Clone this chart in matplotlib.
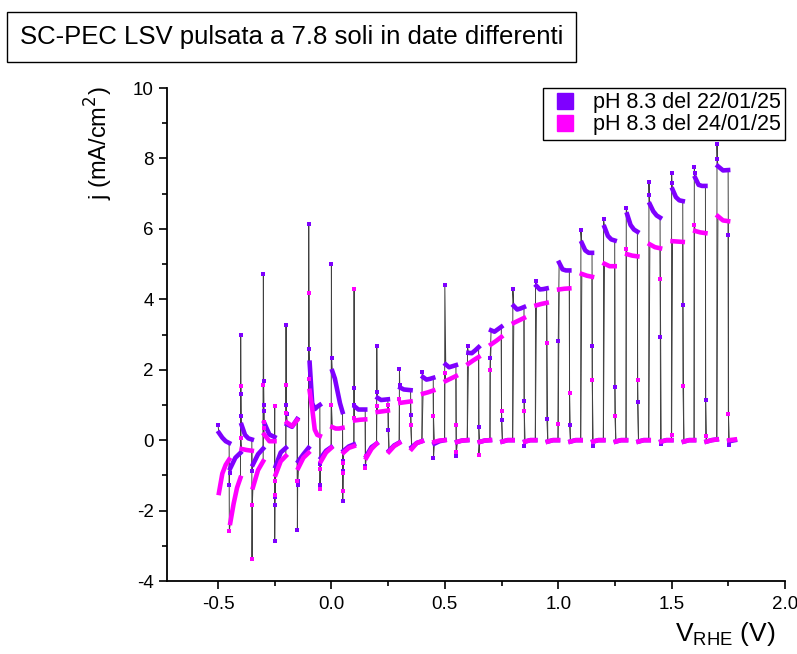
import matplotlib
matplotlib.use("Agg")
from matplotlib import pyplot as plt
from matplotlib.lines import Line2D
from matplotlib.ticker import MultipleLocator
import numpy as np

plt.rcParams['font.family'] = ['Liberation Sans', 'DejaVu Sans']
plt.rcParams['axes.unicode_minus'] = False

# potential at which each light/dark half-period starts (V vs RHE); even index = light on
edges = [-0.50, -0.45, -0.40, -0.35, -0.30, -0.25, -0.20, -0.15, -0.10, -0.05,
         0.00, 0.05, 0.10, 0.15, 0.20, 0.25, 0.30, 0.35, 0.40, 0.45,
         0.50, 0.55, 0.60, 0.65, 0.70, 0.75, 0.80, 0.85, 0.90, 0.95,
         1.00, 1.05, 1.10, 1.15, 1.20, 1.25, 1.30, 1.35, 1.40, 1.45,
         1.50, 1.55, 1.60, 1.65, 1.70, 1.75, 1.78]

series_names = ['pH 8.3 del 22/01/25', 'pH 8.3 del 24/01/25']
series_colors = ['#7f00ff', '#ff00ff']

# 22/01/25: sparse points at each switch, then the dense part of the half-period (mA/cm2)
p_jump = [[0.43], [-1.26, -0.93], [3.0, 1.32, 0.68], [-0.88], [4.73, 1.68, 1.0, 0.82],
          [-2.87, -1.85, -1.6], [3.27, 1.01, 0.75], [-2.54, -1.28, -1.17], [6.13, 2.6],
          [-1.26, -0.69], [5.01, 2.32], [-1.74, -0.88, -0.6], [1.49, 1.01], [-0.74],
          [2.68, 1.38], [0.3], [2.01, 1.58], [0.71], [1.94], [-0.52], [4.42], [-0.45],
          [2.67], [0.37], [2.32], [0.58], [4.28], [1.11, -0.17], [4.52], [0.59], [2.82],
          [0.43], [5.96], [2.68, -0.17], [6.27], [1.51], [6.58], [1.08], [7.33, 6.95],
          [2.93, -0.12], [7.58, 7.31], [3.84], [7.76, 7.59], [1.13], [8.4, 7.99],
          [5.84, -0.14]]
p_run = [[0.21, 0.07, -0.03, -0.08], [-0.8, -0.5, -0.36], [0.43, 0.15, 0.05, 0.02],
         [-0.69, -0.4, -0.24], [0.49, 0.16, 0.09], [-0.74, -0.35, -0.22],
         [0.45, 0.38, 0.6], [-0.6, -0.4, -0.22], [2.2, 1.05, 0.88, 0.95, 1.0],
         [-0.5, -0.3, -0.2], [1.96, 1.75, 1.4, 1.05, 0.8], [-0.3, -0.18, -0.12],
         [0.95, 0.87, 0.87, 0.87], [-0.45, -0.2, -0.1], [1.2, 1.14, 1.15, 1.16],
         [-0.3, -0.15, -0.07], [1.49, 1.44, 1.43, 1.42], [-0.2, -0.08, -0.03],
         [1.79, 1.72, 1.74, 1.77], [-0.1, -0.03, 0.0], [2.15, 2.07, 2.1, 2.13],
         [-0.05, -0.01, 0.0], [2.48, 2.47, 2.55, 2.64], [-0.05, -0.01, 0.0],
         [3.12, 3.08, 3.15, 3.22], [-0.04, 0.0, 0.0], [3.81, 3.71, 3.74, 3.78],
         [-0.04, 0.0, 0.0], [4.38, 4.28, 4.29, 4.31], [-0.04, 0.0, 0.0],
         [5.04, 4.85, 4.82, 4.82], [-0.04, 0.0, 0.0], [5.6, 5.39, 5.32, 5.32],
         [-0.04, 0.0, 0.0], [6.05, 5.8, 5.7, 5.67], [-0.04, 0.0, 0.0],
         [6.41, 6.11, 5.98, 5.92], [-0.04, 0.0, 0.0], [6.7, 6.5, 6.38, 6.32],
         [-0.04, 0.0, 0.0], [7.12, 6.9, 6.81, 6.79], [-0.04, 0.0, 0.0],
         [7.45, 7.25, 7.22, 7.22], [-0.04, 0.0, 0.02], [7.78, 7.66, 7.67],
         [-0.03, 0.0]]

# 24/01/25
m_jump = [[], [-2.57], [1.55, 0.07], [-3.37, -1.83], [1.56, 0.52, 0.35],
          [0.97, -1.57, -1.16], [1.58, 0.78], [-1.15], [4.19, 1.74], [-1.38, -0.83],
          [1.01], [-1.45, -0.93, -0.65], [4.3, 0.63], [-0.79, -0.45], [0.97], [1.01],
          [1.16], [0.43], [], [0.68], [1.91], [0.43, -0.33], [], [-0.43], [1.99],
          [0.84], [], [0.84], [], [2.75], [0.45], [1.35], [], [1.72], [], [0.7],
          [5.42], [1.7], [], [4.59], [0.16], [1.55], [6.11], [0.11], [], [0.75]]
m_run = [[-1.5, -0.95, -0.7, -0.55], [-2.35, -1.8, -1.35, -1.07], [-0.25, -0.28, -0.3],
         [-1.34, -0.85, -0.6], [0.16, -0.03, -0.03], [-0.98, -0.6, -0.45],
         [0.5, 0.4, 0.57], [-0.79, -0.5, -0.36], [1.4, 0.9, 0.3, 0.15, 0.12],
         [-0.6, -0.35, -0.22], [0.37, 0.33, 0.33, 0.35], [-0.35, -0.22, -0.17],
         [0.56, 0.58, 0.59], [-0.5, -0.25, -0.1], [0.8, 0.82, 0.84],
         [-0.33, -0.17, -0.08], [1.06, 1.08, 1.1], [-0.25, -0.08, -0.03],
         [1.32, 1.36, 1.41], [-0.05, -0.01, 0.0], [1.68, 1.75, 1.82],
         [-0.05, -0.01, 0.0], [2.17, 2.27, 2.36], [-0.05, -0.01, 0.0],
         [2.72, 2.82, 2.93], [-0.04, 0.0, 0.0], [3.33, 3.4, 3.47], [-0.04, 0.0, 0.0],
         [3.83, 3.87, 3.9], [-0.04, 0.0, 0.0], [4.28, 4.3, 4.31], [-0.04, 0.0, 0.0],
         [4.72, 4.67, 4.64], [-0.04, 0.0, 0.0], [5.01, 4.94, 4.94], [-0.04, 0.0, 0.0],
         [5.28, 5.24, 5.22], [-0.04, 0.0, 0.0], [5.56, 5.48, 5.45], [-0.04, 0.0, 0.0],
         [5.65, 5.64, 5.63], [-0.04, 0.0, 0.0], [5.94, 5.9, 5.88], [-0.04, 0.0, 0.02],
         [6.36, 6.24, 6.22], [0.0, 0.02]]


def build(jumps, runs):
    """Place the read values of each half-period along the potential sweep"""
    xs, ys, jx, jy, rx, ry = [], [], [], [], [], []
    for k in range(len(runs)):
        v0, v1 = edges[k], edges[k + 1]
        xj = [v0 + 0.0012 * i for i in range(len(jumps[k]))]
        xr = list(np.linspace(v0 + 0.004, v1 - 0.001, len(runs[k])))
        xs += xj + xr
        ys += jumps[k] + runs[k]
        jx += xj
        jy += jumps[k]
        rx.append(xr)
        ry.append(runs[k])
    return xs, ys, jx, jy, rx, ry


fig = plt.figure(figsize=(7.97, 6.54), dpi=100)
ax = fig.add_axes([0.2095, 0.1116, 0.7755, 0.7538])

data = [build(p_jump, p_run), build(m_jump, m_run)]
for xs, ys, *_ in data:
    ax.plot(xs, ys, color='0.25', lw=0.7, zorder=1)
for i, (xs, ys, jx, jy, rx, ry) in enumerate(data):
    c = series_colors[i]
    for xr, yr in zip(rx, ry):
        ax.plot(xr, yr, '-', color=c, lw=3.3, solid_capstyle='projecting', zorder=2 + i)
    ax.plot(jx, jy, 's', color=c, ms=3.0, mew=0, zorder=2 + i)

ax.set_xlim(-0.725, 2.0)
ax.set_ylim(-4, 10)
ax.xaxis.set_major_locator(MultipleLocator(0.5))
ax.xaxis.set_minor_locator(MultipleLocator(0.25))
ax.yaxis.set_major_locator(MultipleLocator(2))
ax.yaxis.set_minor_locator(MultipleLocator(1))
ax.xaxis.set_major_formatter(lambda v, p: f'{v:.1f}')
ax.tick_params(which='major', direction='out', length=6, width=1.2, labelsize=13.5)
ax.tick_params(axis='x', which='major', pad=5)
ax.tick_params(which='minor', direction='out', length=3.5, width=1.2)
for s in ['top', 'right']:
    ax.spines[s].set_visible(False)
for s in ['left', 'bottom']:
    ax.spines[s].set_linewidth(1.3)

ax.set_ylabel('j (mA/cm$^2$)', fontsize=17)
ax.yaxis.set_label_coords(-0.084, 0.888)
ax.set_xlabel('V$_{\\mathregular{RHE}}$ (V)', fontsize=19)
ax.xaxis.set_label_coords(0.903, -0.08)

handles = [Line2D([], [], marker='s', ls='', ms=12, color=c) for c in series_colors]
leg = ax.legend(handles, series_names, loc='upper right', bbox_to_anchor=(1.0, 1.0),
                borderaxespad=0, fontsize=15.5, fancybox=False, edgecolor='black',
                framealpha=1, handletextpad=0.5, borderpad=0.2, labelspacing=0.05,
                handlelength=1.6)
leg.get_frame().set_linewidth(1.0)

fig.text(0.366, 0.943, 'SC-PEC LSV pulsata a 7.8 soli in date differenti',
         fontsize=18.5, ha='center', va='center',
         bbox=dict(boxstyle='square,pad=0.5', fc='white', ec='black', lw=1.0))

fig.savefig('out.png', dpi=100)
